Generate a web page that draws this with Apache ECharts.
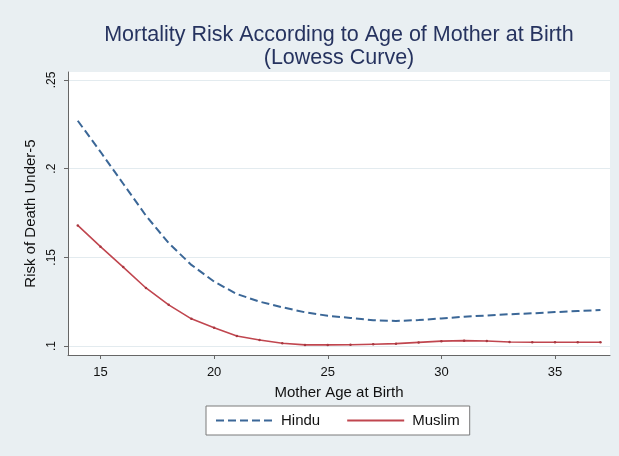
<!DOCTYPE html>
<html>
<head>
<meta charset="utf-8">
<title>Mortality Risk According to Age of Mother at Birth</title>
<script src="https://cdn.jsdelivr.net/npm/echarts@6/dist/echarts.min.js"></script>
<style>
  html, body { margin: 0; padding: 0; background: #e9eff2; }
  #chart { width: 619px; height: 456px; }
</style>
</head>
<body>
<div id="chart"></div>
<script>
// Mother's age at birth (years)
const ages = [14, 15, 16, 17, 18, 19, 20, 21, 22, 23, 24, 25, 26, 27, 28, 29, 30, 31, 32, 33, 34, 35, 36, 37];

// Lowess-smoothed risk of death under 5
const hindu = [0.227, 0.2095, 0.1915, 0.1735, 0.158, 0.1457, 0.1363, 0.1293, 0.125, 0.1218, 0.119, 0.117,
               0.1158, 0.1145, 0.1141, 0.1146, 0.1155, 0.1165, 0.1172, 0.1179, 0.1184, 0.1191, 0.1197, 0.1203];
const muslim = [0.168, 0.156, 0.1445, 0.1327, 0.1232, 0.1153, 0.1103, 0.1056, 0.1034, 0.1015, 0.1006, 0.1006,
                0.1007, 0.101, 0.1013, 0.102, 0.1027, 0.103, 0.1028, 0.1022, 0.1021, 0.1021, 0.1021, 0.1021];

// Axis ticks
const xTicks = [15, 20, 25, 30, 35];
const yTicks = [0.1, 0.15, 0.2, 0.25];

const FONT = '"Liberation Sans", Arial, sans-serif';
const chart = echarts.init(document.getElementById('chart'), null, { renderer: 'canvas' });

const pairs = (ys) => ages.map((a, i) => [a, ys[i]]);

chart.setOption({
  backgroundColor: '#e9eff2',
  animation: false,
  graphic: [{
    type: 'text',
    x: 339,
    y: 24,
    style: {
      text: 'Mortality Risk According to Age of Mother at Birth\n(Lowess Curve)',
      textAlign: 'center',
      textVerticalAlign: 'top',
      font: '21.5px ' + FONT,
      lineHeight: 23,
      fill: '#26335f'
    }
  }],
  grid: {
    left: 68, right: 9, top: 72, bottom: 101,
    show: true, backgroundColor: '#ffffff', borderWidth: 0
  },
  legend: {
    left: 206, top: 406,
    padding: [7, 10, 7, 9],
    itemWidth: 57, itemHeight: 14, itemGap: 26,
    backgroundColor: '#ffffff',
    borderColor: '#7a7a7a', borderWidth: 1,
    itemStyle: { opacity: 0 },
    textStyle: { fontFamily: FONT, fontSize: 15, color: '#111', padding: [0, 0, 0, 3] },
    data: ['Hindu', 'Muslim']
  },
  xAxis: {
    type: 'value',
    min: 13.57, max: 37.42,
    name: 'Mother Age at Birth',
    nameLocation: 'middle',
    nameGap: 30,
    nameTextStyle: { fontFamily: FONT, fontSize: 15, color: '#111' },
    axisLine: { show: true, onZero: false, lineStyle: { color: '#666', width: 1 } },
    axisTick: { show: true, length: 4, customValues: xTicks, lineStyle: { color: '#666' } },
    axisLabel: { customValues: xTicks, margin: 11, fontFamily: FONT, fontSize: 13, color: '#111' },
    splitLine: { show: false }
  },
  yAxis: {
    type: 'value',
    min: 0.0949, max: 0.2545,
    name: 'Risk of Death Under-5',
    nameLocation: 'middle',
    nameRotate: 90,
    nameGap: 28,
    nameTextStyle: { fontFamily: FONT, fontSize: 15, color: '#111' },
    axisLine: { show: true, onZero: false, lineStyle: { color: '#666', width: 1 } },
    axisTick: { show: true, length: 4, customValues: yTicks, lineStyle: { color: '#666' } },
    axisLabel: {
      customValues: yTicks, rotate: 90, margin: 10,
      fontFamily: FONT, fontSize: 12, color: '#111',
      formatter: (v) => String(+v.toFixed(2)).replace(/^0/, '')
    },
    splitLine: { show: true, lineStyle: { color: '#e3ebef', width: 1 } }
  },
  series: [
    {
      name: 'Hindu',
      type: 'line',
      data: pairs(hindu),
      showSymbol: false,
      symbol: 'none',
      lineStyle: { color: '#3b6797', width: 2, type: [8, 4] },
      itemStyle: { color: '#3b6797' },
      z: 3
    },
    {
      name: 'Muslim',
      type: 'line',
      data: pairs(muslim),
      symbol: 'circle',
      symbolSize: 2.5,
      showSymbol: true,
      lineStyle: { color: '#c0464f', width: 1.6 },
      itemStyle: { color: '#a83840' },
      z: 3
    }
  ]
});
</script>
</body>
</html>
